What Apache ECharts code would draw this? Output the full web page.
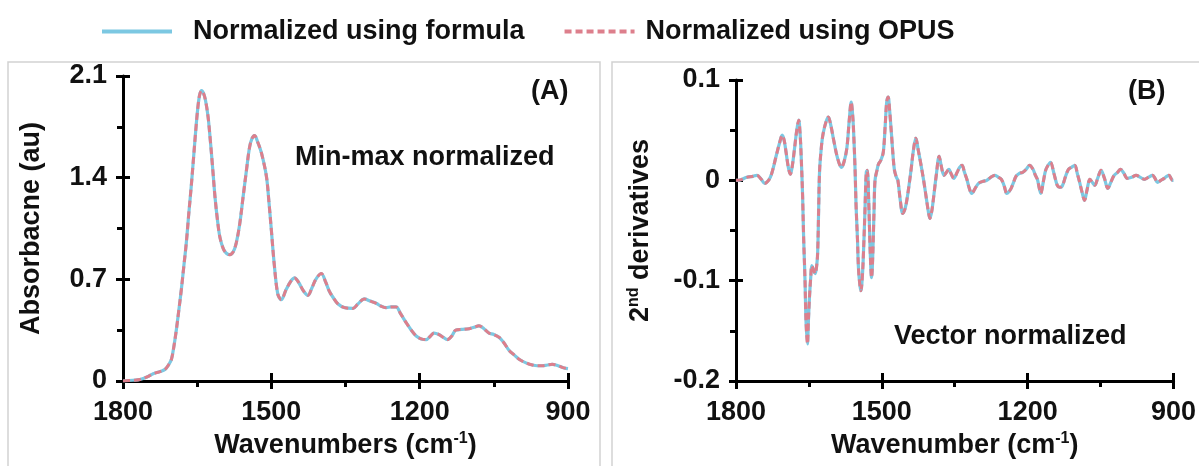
<!DOCTYPE html>
<html>
<head>
<meta charset="utf-8">
<script src="https://cdn.jsdelivr.net/npm/echarts@6/dist/echarts.min.js"></script>
<style>
html,body{margin:0;padding:0;background:#fff;}
#chart{width:1199px;height:466px;}
</style>
</head>
<body>
<div id="chart"></div>
<script>
// ---------- DATA ----------
const seriesNames = ['Normalized using formula', 'Normalized using OPUS'];
const xTicks = [900, 1200, 1500, 1800];

// Panel A: min-max normalized absorbance
const wnA = [1800,1780,1766,1750,1739,1725,1715,1708,1702,1697,1692,1687,1682,1677,1672,1667,1662,1657,1653,1649,1645,1641,1637,1633,1628,1624,1619,1614,1609,1604,1597,1591,1584,1577,1571,1564,1557,1550,1544,1539,1534,1527,1520,1510,1505,1500,1494,1487,1480,1470,1460,1453,1445,1435,1426,1418,1410,1399,1390,1383,1376,1365,1352,1335,1325,1312,1300,1288,1278,1268,1258,1248,1238,1227,1217,1207,1197,1187,1178,1171,1161,1152,1144,1135,1127,1115,1100,1090,1080,1070,1060,1050,1039,1029,1019,1009,999,985,972,962,952,942,932,920,908,900];
const absA = [0,0.005,0.01,0.03,0.05,0.065,0.08,0.11,0.15,0.24,0.355,0.49,0.63,0.79,0.95,1.15,1.34,1.55,1.72,1.87,1.97,2.0,1.98,1.93,1.82,1.68,1.48,1.27,1.11,0.99,0.91,0.88,0.87,0.89,0.95,1.08,1.27,1.46,1.61,1.67,1.69,1.64,1.57,1.41,1.24,1.04,0.80,0.60,0.56,0.63,0.69,0.71,0.68,0.62,0.59,0.64,0.70,0.74,0.68,0.62,0.58,0.53,0.505,0.50,0.53,0.565,0.55,0.535,0.515,0.505,0.51,0.51,0.46,0.40,0.35,0.31,0.29,0.285,0.31,0.33,0.32,0.30,0.285,0.31,0.35,0.355,0.36,0.37,0.38,0.36,0.33,0.32,0.30,0.26,0.21,0.18,0.15,0.125,0.11,0.105,0.105,0.11,0.115,0.105,0.09,0.085];
const yTicksA = [0, 0.7, 1.4, 2.1];

// Panel B: vector normalized 2nd derivatives
const wnB = [1800,1795,1778,1765,1757,1748,1741,1733,1727,1717,1710,1705,1701,1697,1692,1688,1684,1680,1675,1671,1668,1666,1663,1661,1658,1656,1653,1651,1649,1646,1644,1640,1637,1634,1632,1630,1628,1624,1621,1615,1610,1605,1599,1591,1583,1578,1572,1567,1563,1560,1558,1555,1553,1550,1548,1545,1543,1540,1538,1535,1532,1530,1527,1524,1521,1519,1516,1514,1510,1507,1502,1497,1493,1490,1487,1484,1480,1477,1474,1470,1467,1462,1457,1452,1447,1440,1435,1430,1425,1420,1414,1409,1404,1401,1397,1393,1388,1382,1378,1372,1367,1362,1357,1352,1345,1340,1335,1330,1325,1320,1315,1308,1301,1292,1284,1276,1267,1260,1254,1248,1243,1238,1234,1229,1224,1217,1210,1203,1196,1189,1184,1180,1176,1173,1168,1163,1158,1153,1146,1139,1134,1129,1122,1116,1110,1103,1098,1093,1088,1083,1078,1072,1067,1062,1056,1049,1042,1035,1029,1022,1015,1009,1002,995,986,977,968,960,952,943,938,933,926,919,914,909,905,902,900];
const derivB = [0,0,0.003,0.004,0.005,0.001,-0.003,0.000,0.006,0.025,0.038,0.045,0.040,0.028,0.012,0.006,0.015,0.030,0.050,0.060,0.045,0.025,-0.015,-0.055,-0.100,-0.140,-0.163,-0.140,-0.118,-0.095,-0.085,-0.090,-0.093,-0.085,-0.072,-0.030,0.010,0.035,0.046,0.058,0.063,0.055,0.040,0.022,0.013,0.018,0.032,0.060,0.078,0.065,0.048,0.010,-0.025,-0.060,-0.088,-0.105,-0.110,-0.095,-0.075,-0.035,0.008,0.010,-0.020,-0.070,-0.097,-0.080,-0.030,0.000,0.010,0.016,0.020,0.028,0.055,0.078,0.083,0.070,0.045,0.025,0.010,0.003,0.000,-0.020,-0.033,-0.028,-0.015,0.010,0.030,0.042,0.030,0.017,0.000,-0.016,-0.032,-0.038,-0.030,-0.015,0.005,0.024,0.015,0.005,0.008,0.011,0.006,0.002,0.008,0.013,0.015,0.008,0.001,-0.008,-0.013,-0.008,-0.003,-0.001,0.000,0.003,0.005,0.003,0.001,-0.006,-0.013,-0.011,-0.008,-0.002,0.004,0.007,0.008,0.011,0.015,0.011,0.005,0.001,-0.008,-0.013,-0.002,0.010,0.015,0.018,0.007,-0.005,-0.007,-0.006,0.004,0.011,0.013,0.015,0.007,-0.002,-0.012,-0.020,-0.010,0.001,-0.002,-0.005,0.002,0.010,0.002,-0.008,-0.002,0.005,0.008,0.011,0.007,0.002,0.003,0.005,0.003,0.001,0.003,0.005,0.002,-0.002,0.000,0.002,0.004,0.005,0.002,0.000,0.000];
const yTicksB = [-0.2, -0.1, 0, 0.1];

// ---------- STYLE ----------
const FONT = "'Liberation Sans', Arial, sans-serif";
const TXT = '#111';
const BLUE = '#7cc8e2';
const PINK = '#dd7f8c';

const pairs = (xs, ys) => xs.map((x, i) => [x, ys[i]]);
const dataA = pairs(wnA, absA);
const dataB = pairs(wnB, derivB);

const grids = [
  {left: 123, top: 76, width: 445, height: 306},
  {left: 736, top: 80, width: 443, height: 302}
];

const supRich = {sup: {fontSize: 16, fontWeight: 'bold', color: TXT, fontFamily: FONT, verticalAlign: 'top', lineHeight: 16}};

function xAxes(gi, name) {
  const base = {
    gridIndex: gi, type: 'value', inverse: true, position: 'bottom',
    min: xTicks[0], max: xTicks[xTicks.length - 1], interval: xTicks[1] - xTicks[0],
    splitLine: {show: false}
  };
  return [
    Object.assign({}, base, {
      axisLine: {show: true, onZero: false, lineStyle: {color: '#000', width: 3}},
      axisTick: {show: true, inside: false, length: 8, lineStyle: {color: '#000', width: 3}},
      minorTick: {show: true, splitNumber: 2, length: 6, lineStyle: {color: '#000', width: 3}},
      axisLabel: {fontSize: 27, fontWeight: 'bold', color: TXT, fontFamily: FONT, margin: 18,
        showMinLabel: true, showMaxLabel: true, formatter: v => String(Math.round(v))},
      name: name, nameLocation: 'middle', nameGap: 50,
      nameTextStyle: {fontSize: 27, fontWeight: 'bold', color: TXT, fontFamily: FONT, lineHeight: 30, rich: supRich}
    }),
    Object.assign({}, base, {
      axisLine: {show: false, onZero: false},
      axisTick: {show: true, inside: true, length: 8, lineStyle: {color: '#000', width: 3}},
      axisLabel: {show: false}
    })
  ];
}

function yAxes(gi, ticks, name, gap) {
  const base = {
    gridIndex: gi, type: 'value', position: 'left',
    min: ticks[0], max: ticks[ticks.length - 1],
    interval: +(ticks[1] - ticks[0]).toFixed(6),
    splitLine: {show: false}
  };
  return [
    Object.assign({}, base, {
      axisLine: {show: true, onZero: false, lineStyle: {color: '#000', width: 3}},
      axisTick: {show: true, inside: false, length: 7, lineStyle: {color: '#000', width: 3}},
      minorTick: {show: true, splitNumber: 2, length: 6, lineStyle: {color: '#000', width: 3}},
      axisLabel: {fontSize: 27, fontWeight: 'bold', color: TXT, fontFamily: FONT, margin: 16,
        formatter: v => (Math.abs(v) < 1e-9 ? '0' : (+v.toFixed(2)).toString())},
      name: name, nameLocation: 'middle', nameGap: gap, nameRotate: 90,
      nameTextStyle: {fontSize: 27, fontWeight: 'bold', color: TXT, fontFamily: FONT, lineHeight: 30, rich: supRich}
    }),
    Object.assign({}, base, {
      axisLine: {show: false, onZero: false},
      axisTick: {show: true, inside: true, length: 7, lineStyle: {color: '#000', width: 3}},
      axisLabel: {show: false}
    })
  ];
}

function lineSeries(name, xi, yi, data, dashed) {
  return {
    name: name, type: 'line', xAxisIndex: xi, yAxisIndex: yi, data: data,
    showSymbol: false, symbol: 'none', smooth: 0.35, animation: false,
    lineStyle: dashed ? {color: PINK, width: 3, type: [7, 4]} : {color: BLUE, width: 3.2},
    itemStyle: {color: dashed ? PINK : BLUE},
    z: dashed ? 3 : 2
  };
}

const textEl = (txt, x, y) => ({
  type: 'text', left: x, top: y,
  style: {text: txt, fill: TXT, font: 'bold 27px ' + FONT}
});

const legendText = pad => ({fontSize: 27, fontWeight: 'bold', color: TXT, fontFamily: FONT, padding: [0, 0, 0, pad]});

const chart = echarts.init(document.getElementById('chart'), null, {renderer: 'canvas'});
chart.setOption({
  backgroundColor: '#fff',
  animation: false,
  legend: {
    data: [
      {name: seriesNames[0], textStyle: legendText(16)},
      {name: seriesNames[1], textStyle: legendText(6)}
    ],
    left: 95, top: 13,
    itemWidth: 70, itemHeight: 28, itemGap: 38,
    itemStyle: {opacity: 0},
    lineStyle: {width: 4},
    textStyle: legendText(16)
  },
  grid: grids,
  xAxis: [].concat(
    xAxes(0, 'Wavenumbers (cm{sup|-1})'),
    xAxes(1, 'Wavenumber (cm{sup|-1})')
  ),
  yAxis: [].concat(
    yAxes(0, yTicksA, 'Absorbacne (au)', 76),
    yAxes(1, yTicksB, '2{sup|nd} derivatives', 80)
  ),
  graphic: [
    {type: 'rect', shape: {x: 8, y: 62, width: 592, height: 420}, style: {fill: 'none', stroke: '#d2d2d2', lineWidth: 1.5}, silent: true},
    {type: 'rect', shape: {x: 612, y: 62, width: 600, height: 420}, style: {fill: 'none', stroke: '#d2d2d2', lineWidth: 1.5}, silent: true},
    textEl('(A)', 531, 78),
    textEl('Min-max normalized', 295, 144),
    textEl('(B)', 1128, 78),
    textEl('Vector normalized', 894, 323)
  ],
  series: [
    lineSeries(seriesNames[0], 0, 0, dataA, false),
    lineSeries(seriesNames[1], 0, 0, dataA, true),
    lineSeries(seriesNames[0], 2, 2, dataB, false),
    lineSeries(seriesNames[1], 2, 2, dataB, true)
  ]
});
</script>
</body>
</html>
